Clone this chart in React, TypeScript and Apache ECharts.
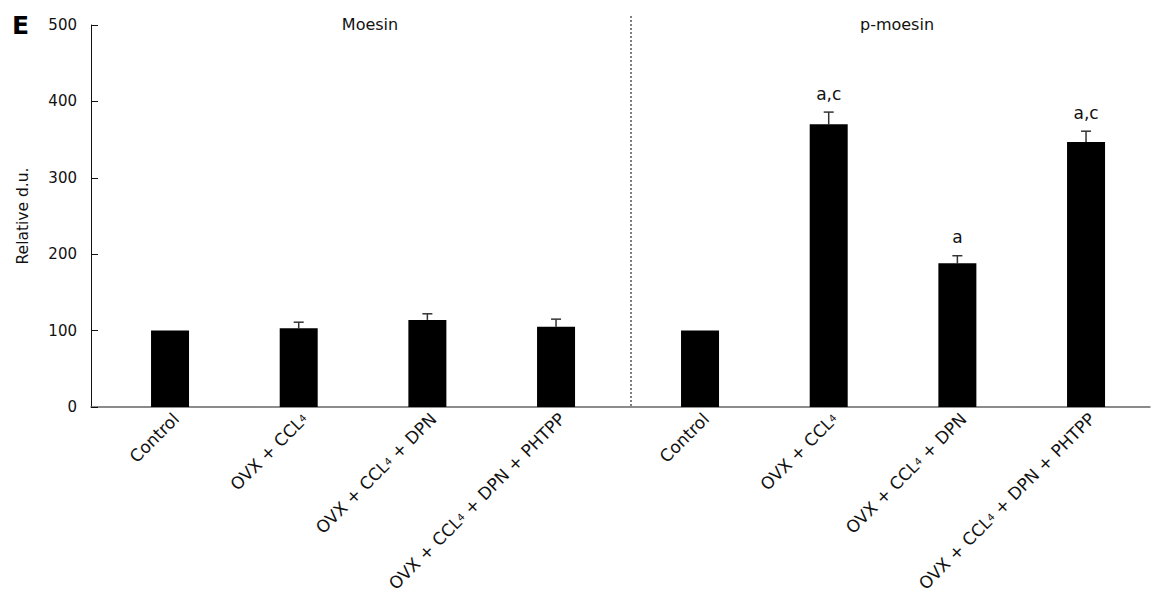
import React, { useEffect, useRef } from "react";
import * as echarts from "echarts";

const categories = ["Control", "OVX + CCL4", "OVX + CCL4 + DPN", "OVX + CCL4 + DPN + PHTPP"];
const moesin = [100, 103, 114, 105];
const moesinErr = [0, 8, 8, 10];
const moesinAnnot = ["", "", "", ""];
const pMoesin = [100, 370, 188, 347];
const pMoesinErr = [0, 16, 10, 14];
const pMoesinAnnot = ["", "a,c", "a", "a,c"];
const yTicks = [0, 100, 200, 300, 400, 500];
const panelTitles = ["Moesin", "p-moesin"];

const FONT = "DejaVu Sans";

function labelFormatter(v: string) {
  return v.replace(/CCL4/g, "CCL{s|4}");
}

function errorSeries(gridIdx: number, values: number[], errs: number[], annots: string[]) {
  return {
    type: "custom",
    xAxisIndex: gridIdx,
    yAxisIndex: gridIdx,
    silent: true,
    data: values.map((v, i) => [i, v, errs[i]]),
    renderItem: (params: any, api: any) => {
      const i = api.value(0);
      const v = api.value(1);
      const e = api.value(2);
      const base = api.coord([i, v]);
      const top = api.coord([i, v + e]);
      const children: any[] = [];
      if (e > 0) {
        children.push({
          type: "line",
          shape: { x1: base[0], y1: base[1], x2: top[0], y2: top[1] },
          style: { stroke: "#333", lineWidth: 1.5 },
        });
        children.push({
          type: "line",
          shape: { x1: top[0] - 5, y1: top[1], x2: top[0] + 5, y2: top[1] },
          style: { stroke: "#333", lineWidth: 1.5 },
        });
      }
      const a = annots[params.dataIndex];
      if (a) {
        children.push({
          type: "text",
          x: top[0],
          y: top[1] - 10,
          style: {
            text: a,
            fill: "#111",
            font: `17px "${FONT}"`,
            align: "center",
            verticalAlign: "bottom",
          },
        });
      }
      return { type: "group", children };
    },
  };
}

export default function App() {
  const ref = useRef<HTMLDivElement>(null);
  useEffect(() => {
    if (!ref.current) return;
    const chart = echarts.init(ref.current, null, { renderer: "svg" });
    const top = 25;
    const height = 382;
    const band = 128.67;
    const leftStart = 105.7;
    const rightStart = 635.7;
    const catAxis = (gridIndex: number) => ({
      type: "category",
      gridIndex,
      data: categories,
      axisLine: { show: false },
      axisTick: { show: false },
      axisLabel: {
        rotate: 45,
        margin: 3,
        interval: 0,
        verticalAlign: "top",
        color: "#111",
        fontFamily: FONT,
        fontSize: 17,
        formatter: labelFormatter,
        rich: { s: { fontSize: 10, fontFamily: FONT, color: "#111" } },
      },
    });
    const hiddenY = (gridIndex: number) => ({
      type: "value",
      gridIndex,
      min: 0,
      max: 500,
      interval: 100,
      show: false,
      splitLine: { show: false },
    });
    const gridBase = { top, height, containLabel: false, outerBoundsMode: "none" };
    chart.setOption({
      animation: false,
      backgroundColor: "#fff",
      textStyle: { fontFamily: FONT },
      grid: [
        { ...gridBase, left: 91, right: 2 },
        { ...gridBase, left: leftStart, width: band * 4 },
        { ...gridBase, left: rightStart, width: band * 4 },
      ],
      xAxis: [
        {
          type: "value",
          gridIndex: 0,
          min: 0,
          max: 1,
          axisLine: { show: true, lineStyle: { color: "#666", width: 1.5 } },
          axisTick: { show: false },
          axisLabel: { show: false },
          splitLine: { show: false },
        },
        catAxis(1),
        catAxis(2),
      ],
      yAxis: [
        {
          type: "value",
          gridIndex: 0,
          min: 0,
          max: 500,
          interval: 100,
          data: yTicks,
          axisLine: { show: true, lineStyle: { color: "#111", width: 1 } },
          axisTick: { show: true, inside: true, length: 7, lineStyle: { color: "#111" } },
          axisLabel: { color: "#111", fontSize: 15, fontFamily: FONT, margin: 14 },
          splitLine: { show: false },
          name: "Relative d.u.",
          nameLocation: "middle",
          nameRotate: 90,
          nameGap: 60,
          nameTextStyle: { color: "#111", fontSize: 15.5, fontFamily: FONT },
        },
        hiddenY(1),
        hiddenY(2),
      ],
      graphic: [
        {
          type: "text",
          left: 12,
          top: 13,
          style: { text: "E", font: `bold 25px "${FONT}"`, fill: "#000" },
        },
        {
          type: "text",
          x: 370,
          y: 24,
          style: { text: panelTitles[0], font: `16px "${FONT}"`, fill: "#111", align: "center", verticalAlign: "middle" },
        },
        {
          type: "text",
          x: 897,
          y: 24,
          style: { text: panelTitles[1], font: `16px "${FONT}"`, fill: "#111", align: "center", verticalAlign: "middle" },
        },
        {
          type: "line",
          shape: { x1: 631, y1: 16, x2: 631, y2: 407 },
          style: { stroke: "#555", lineWidth: 1.5, lineDash: [2, 2] },
        },
      ],
      series: [
        {
          type: "bar",
          xAxisIndex: 1,
          yAxisIndex: 1,
          data: moesin,
          barWidth: 38,
          itemStyle: { color: "#000" },
        },
        {
          type: "bar",
          xAxisIndex: 2,
          yAxisIndex: 2,
          data: pMoesin,
          barWidth: 38,
          itemStyle: { color: "#000" },
        },
        errorSeries(1, moesin, moesinErr, moesinAnnot),
        errorSeries(2, pMoesin, pMoesinErr, pMoesinAnnot),
      ],
    });
    return () => chart.dispose();
  }, []);
  return <div ref={ref} style={{ width: 1152, height: 592, position: "absolute", left: 0, top: 0 }} />;
}
